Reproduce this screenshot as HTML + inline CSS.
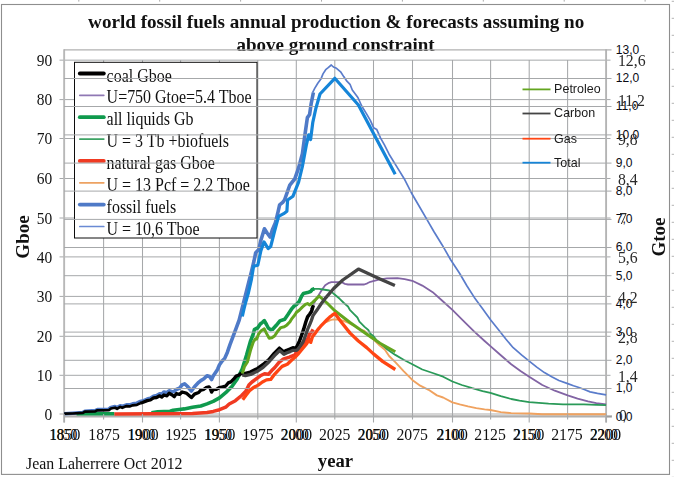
<!DOCTYPE html>
<html><head><meta charset="utf-8"><title>world fossil fuels annual production</title>
<style>html,body{margin:0;padding:0;background:#fff;width:674px;height:477px;overflow:hidden;font-family:"Liberation Serif",serif}</style>
</head><body>
<svg width="674" height="477" viewBox="0 0 674 477" style="position:absolute;left:0;top:0">
<rect x="0" y="0" width="674" height="477" fill="#fff"/>
<text transform="translate(615.8 420.5) scale(0.95 1)" font-family="Liberation Sans, sans-serif" font-size="12.7" fill="#0a0a14">0,0</text>
<text transform="translate(615.8 392.3) scale(0.95 1)" font-family="Liberation Sans, sans-serif" font-size="12.7" fill="#0a0a14">1,0</text>
<text transform="translate(615.8 364.1) scale(0.95 1)" font-family="Liberation Sans, sans-serif" font-size="12.7" fill="#0a0a14">2,0</text>
<text transform="translate(615.8 335.9) scale(0.95 1)" font-family="Liberation Sans, sans-serif" font-size="12.7" fill="#0a0a14">3,0</text>
<text transform="translate(615.8 307.7) scale(0.95 1)" font-family="Liberation Sans, sans-serif" font-size="12.7" fill="#0a0a14">4,0</text>
<text transform="translate(615.8 279.5) scale(0.95 1)" font-family="Liberation Sans, sans-serif" font-size="12.7" fill="#0a0a14">5,0</text>
<text transform="translate(615.8 251.3) scale(0.95 1)" font-family="Liberation Sans, sans-serif" font-size="12.7" fill="#0a0a14">6,0</text>
<text transform="translate(615.8 223.2) scale(0.95 1)" font-family="Liberation Sans, sans-serif" font-size="12.7" fill="#0a0a14">7,0</text>
<text transform="translate(615.8 194.9) scale(0.95 1)" font-family="Liberation Sans, sans-serif" font-size="12.7" fill="#0a0a14">8,0</text>
<text transform="translate(615.8 166.9) scale(0.95 1)" font-family="Liberation Sans, sans-serif" font-size="12.7" fill="#0a0a14">9,0</text>
<text transform="translate(615.8 138.7) scale(0.95 1)" font-family="Liberation Sans, sans-serif" font-size="12.7" fill="#0a0a14">10,0</text>
<text transform="translate(615.8 110.3) scale(0.95 1)" font-family="Liberation Sans, sans-serif" font-size="12.7" fill="#0a0a14">11,0</text>
<text transform="translate(615.8 82.3) scale(0.95 1)" font-family="Liberation Sans, sans-serif" font-size="12.7" fill="#0a0a14">12,0</text>
<text transform="translate(615.8 53.8) scale(0.95 1)" font-family="Liberation Sans, sans-serif" font-size="12.7" fill="#0a0a14">13,0</text>
<text transform="translate(63.6 439.7) scale(0.83 1)" text-anchor="middle" font-family="Liberation Serif, serif" font-size="16.4" fill="#000">1850</text>
<text transform="translate(141.8 439.7) scale(0.83 1)" text-anchor="middle" font-family="Liberation Serif, serif" font-size="16.4" fill="#000">1900</text>
<text transform="translate(218.5 439.7) scale(0.83 1)" text-anchor="middle" font-family="Liberation Serif, serif" font-size="16.4" fill="#000">1950</text>
<text transform="translate(295.2 439.7) scale(0.83 1)" text-anchor="middle" font-family="Liberation Serif, serif" font-size="16.4" fill="#000">2000</text>
<text transform="translate(372.2 439.7) scale(0.83 1)" text-anchor="middle" font-family="Liberation Serif, serif" font-size="16.4" fill="#000">2050</text>
<text transform="translate(451.0 439.7) scale(0.83 1)" text-anchor="middle" font-family="Liberation Serif, serif" font-size="16.4" fill="#000">2100</text>
<text transform="translate(527.5 439.7) scale(0.83 1)" text-anchor="middle" font-family="Liberation Serif, serif" font-size="16.4" fill="#000">2150</text>
<text transform="translate(604.3 439.7) scale(0.83 1)" text-anchor="middle" font-family="Liberation Serif, serif" font-size="16.4" fill="#000">2200</text>
</svg>
<svg width="674" height="477" viewBox="0 0 674 477" style="position:absolute;left:0;top:0;will-change:transform">
<rect x="1.5" y="4.5" width="668" height="469.9" fill="none" stroke="#8e8e8e" stroke-width="1.1"/>
<rect x="78.3" y="0" width="1" height="1.6" fill="#aaa"/>
<rect x="159.2" y="0" width="1" height="1.6" fill="#aaa"/>
<rect x="240.1" y="0" width="1" height="1.6" fill="#aaa"/>
<rect x="321.0" y="0" width="1" height="1.6" fill="#aaa"/>
<rect x="401.9" y="0" width="1" height="1.6" fill="#aaa"/>
<rect x="482.8" y="0" width="1" height="1.6" fill="#aaa"/>
<rect x="563.7" y="0" width="1" height="1.6" fill="#aaa"/>
<rect x="644.6" y="0" width="1" height="1.6" fill="#aaa"/>
<rect x="671.7" y="0.8" width="2.3" height="1" fill="#b4b4b4"/>
<rect x="671.7" y="17.8" width="2.3" height="1" fill="#b4b4b4"/>
<rect x="671.7" y="34.8" width="2.3" height="1" fill="#b4b4b4"/>
<rect x="671.7" y="51.8" width="2.3" height="1" fill="#b4b4b4"/>
<rect x="671.7" y="68.8" width="2.3" height="1" fill="#b4b4b4"/>
<rect x="671.7" y="85.8" width="2.3" height="1" fill="#b4b4b4"/>
<rect x="671.7" y="102.8" width="2.3" height="1" fill="#b4b4b4"/>
<rect x="671.7" y="119.8" width="2.3" height="1" fill="#b4b4b4"/>
<rect x="671.7" y="136.8" width="2.3" height="1" fill="#b4b4b4"/>
<rect x="671.7" y="153.8" width="2.3" height="1" fill="#b4b4b4"/>
<rect x="671.7" y="170.8" width="2.3" height="1" fill="#b4b4b4"/>
<rect x="671.7" y="187.8" width="2.3" height="1" fill="#b4b4b4"/>
<rect x="671.7" y="204.8" width="2.3" height="1" fill="#b4b4b4"/>
<rect x="671.7" y="221.8" width="2.3" height="1" fill="#b4b4b4"/>
<rect x="671.7" y="238.8" width="2.3" height="1" fill="#b4b4b4"/>
<rect x="671.7" y="255.8" width="2.3" height="1" fill="#b4b4b4"/>
<rect x="671.7" y="272.8" width="2.3" height="1" fill="#b4b4b4"/>
<rect x="671.7" y="289.8" width="2.3" height="1" fill="#b4b4b4"/>
<rect x="671.7" y="306.8" width="2.3" height="1" fill="#b4b4b4"/>
<rect x="671.7" y="323.8" width="2.3" height="1" fill="#b4b4b4"/>
<rect x="671.7" y="340.8" width="2.3" height="1" fill="#b4b4b4"/>
<rect x="671.7" y="357.8" width="2.3" height="1" fill="#b4b4b4"/>
<rect x="671.7" y="374.8" width="2.3" height="1" fill="#b4b4b4"/>
<rect x="671.7" y="391.8" width="2.3" height="1" fill="#b4b4b4"/>
<rect x="671.7" y="408.8" width="2.3" height="1" fill="#b4b4b4"/>
<rect x="671.7" y="425.8" width="2.3" height="1" fill="#b4b4b4"/>
<rect x="671.7" y="442.8" width="2.3" height="1" fill="#b4b4b4"/>
<rect x="671.7" y="459.8" width="2.3" height="1" fill="#b4b4b4"/>
<rect x="671.7" y="476.8" width="2.3" height="1" fill="#b4b4b4"/>
<g font-family="Liberation Serif, serif" font-weight="bold" font-size="19" fill="#111" text-anchor="middle">
<text x="336.2" y="28" font-size="19.12">world fossil fuels annual production &amp; forecasts assuming no</text>
<text x="335.6" y="51.2">above ground constraint</text>
</g>
<line x1="59.5" x2="610.5" y1="375.30" y2="375.30" stroke="#a6a8aa" stroke-width="1.0"/>
<line x1="59.5" x2="610.5" y1="336.30" y2="336.30" stroke="#a6a8aa" stroke-width="1.0"/>
<line x1="59.5" x2="610.5" y1="296.40" y2="296.40" stroke="#a6a8aa" stroke-width="1.0"/>
<line x1="59.5" x2="610.5" y1="256.90" y2="256.90" stroke="#a6a8aa" stroke-width="1.0"/>
<line x1="59.5" x2="610.5" y1="218.00" y2="218.00" stroke="#a6a8aa" stroke-width="1.0"/>
<line x1="59.5" x2="610.5" y1="178.50" y2="178.50" stroke="#a6a8aa" stroke-width="1.0"/>
<line x1="59.5" x2="610.5" y1="138.50" y2="138.50" stroke="#a6a8aa" stroke-width="1.0"/>
<line x1="59.5" x2="610.5" y1="99.60" y2="99.60" stroke="#a6a8aa" stroke-width="1.0"/>
<line x1="59.5" x2="610.5" y1="60.15" y2="60.15" stroke="#a6a8aa" stroke-width="1.0"/>
<line x1="103.6" x2="103.6" y1="60" y2="414" stroke="#a6a8aa" stroke-width="1.05"/>
<line x1="142.5" x2="142.5" y1="60" y2="414" stroke="#a6a8aa" stroke-width="1.05"/>
<line x1="180.6" x2="180.6" y1="60" y2="414" stroke="#a6a8aa" stroke-width="1.05"/>
<line x1="219.4" x2="219.4" y1="60" y2="414" stroke="#a6a8aa" stroke-width="1.05"/>
<line x1="257.8" x2="257.8" y1="60" y2="414" stroke="#a6a8aa" stroke-width="1.05"/>
<line x1="296.3" x2="296.3" y1="60" y2="414" stroke="#a6a8aa" stroke-width="1.05"/>
<line x1="334.8" x2="334.8" y1="60" y2="414" stroke="#a6a8aa" stroke-width="1.05"/>
<line x1="373.5" x2="373.5" y1="60" y2="414" stroke="#a6a8aa" stroke-width="1.05"/>
<line x1="412.5" x2="412.5" y1="60" y2="414" stroke="#a6a8aa" stroke-width="1.05"/>
<line x1="452.5" x2="452.5" y1="60" y2="414" stroke="#a6a8aa" stroke-width="1.05"/>
<line x1="490.6" x2="490.6" y1="60" y2="414" stroke="#a6a8aa" stroke-width="1.05"/>
<line x1="529.2" x2="529.2" y1="60" y2="414" stroke="#a6a8aa" stroke-width="1.05"/>
<line x1="567.6" x2="567.6" y1="60" y2="414" stroke="#a6a8aa" stroke-width="1.05"/>
<line x1="64.15" x2="64.15" y1="49.3" y2="422.5" stroke="#b8b8b8" stroke-width="1.9"/>
<line x1="59.5" x2="606" y1="414" y2="414" stroke="#ababab" stroke-width="1.1"/>
<line x1="64" x2="612" y1="416.4" y2="416.4" stroke="#b0b0b0" stroke-width="2.4"/>
<line x1="606.1" x2="606.1" y1="49.3" y2="422.5" stroke="#b4b4b4" stroke-width="1.9"/>
<path d="M310.6 309.2 L312.7 306.1 L315.8 299.9 L318.9 294.7 L322.1 289.5 L325.2 285.3 L328.3 283.2 L331.4 282.2 L341.8 282.2 L344.9 283.9 L348.0 284.5 L362.6 284.5 L364.2 284.5 L367.3 283.3 L370.4 281.8 L378.7 279.7 L387.0 278.3 L397.4 278.1 L404.7 279.1 L412.3 280.8 L422.3 285.6 L432.7 292.2 L443.1 301.5 L452.4 309.9 L463.9 321.3 L474.3 331.7 L484.6 341.0 L490.4 346.2 L500.8 355.3 L511.2 364.3 L520.5 371.1 L529.2 376.7 L542.3 385.0 L554.8 390.7 L567.7 395.4 L577.6 398.6 L588.0 401.3 L596.3 403.1 L606.1 404.4" fill="none" stroke="#8264a4" stroke-width="1.8" stroke-linejoin="round" stroke-linecap="butt" />
<path d="M313.7 288.8 L318.9 288.8 L323.1 289.5 L329.3 290.5 L332.4 292.6 L334.9 294.7 L339.7 298.8 L343.9 303.0 L348.0 306.5 L350.1 310.2 L354.3 314.4 L357.4 317.5 L359.4 321.7 L364.6 326.9 L368.3 330.0 L370.4 333.7 L373.5 336.2 L376.6 340.4 L384.9 347.7 L395.3 354.9 L403.6 359.7 L412.3 364.3 L422.3 369.5 L432.7 373.0 L443.1 376.7 L452.4 381.5 L461.8 385.0 L472.2 388.2 L482.6 391.1 L490.4 392.9 L500.8 396.1 L511.2 399.0 L519.5 400.6 L529.2 402.1 L548.6 403.7 L563.1 404.4 L583.9 404.4 L596.3 404.8 L606.1 405.2" fill="none" stroke="#2a9a58" stroke-width="1.8" stroke-linejoin="round" stroke-linecap="butt" />
<path d="M323.1 323.1 L327.2 321.7 L330.4 320.2 L333.5 319.4 L338.7 319.6 L343.9 321.0 L348.0 322.7 L354.3 325.8 L360.5 330.0 L364.2 330.6 L370.4 336.9 L373.5 339.3 L379.7 345.6 L384.9 349.7 L389.1 356.0 L395.3 362.2 L403.6 371.1 L412.3 379.9 L420.2 385.7 L428.6 389.8 L436.9 395.4 L443.1 397.5 L452.4 402.3 L459.7 404.4 L468.0 406.4 L476.3 408.1 L484.6 409.4 L490.4 410.0 L500.8 412.1 L511.2 413.1 L529.2 413.5 L542.3 414.3 L606.1 414.3" fill="none" stroke="#f0a25f" stroke-width="1.9" stroke-linejoin="round" stroke-linecap="butt" />
<path d="M312.6 92.6 L314.7 88.4 L317.8 83.2 L320.9 79.1 L323.0 73.9 L325.7 69.7 L328.2 67.7 L331.3 65.0 L333.4 67.0 L336.5 68.3 L340.6 71.8 L343.7 76.6 L346.9 81.2 L350.0 84.3 L352.3 90.0 L357.9 97.5 L361.7 106.0 L366.4 113.6 L370.2 120.2 L373.6 127.7 L376.8 129.6 L380.6 138.1 L384.3 144.7 L389.1 154.2 L396.6 166.4 L404.2 178.7 L412.2 194.3 L419.5 206.7 L426.7 219.2 L434.0 231.7 L442.3 245.2 L450.8 260.0 L459.7 273.5 L467.0 286.0 L474.3 297.4 L482.6 308.8 L490.9 320.2 L498.7 330.0 L506.0 339.3 L513.2 347.7 L521.5 354.9 L529.2 361.2 L537.1 367.4 L544.4 372.6 L551.7 376.7 L558.9 380.5 L567.7 383.6 L573.5 385.7 L579.7 387.7 L584.9 389.8 L590.1 391.9 L597.4 393.4 L606.1 394.8" fill="none" stroke="#5a7ccb" stroke-width="1.7" stroke-linejoin="round" stroke-linecap="butt" />
<path d="M64.2 413.8 L72.5 413.3 L82.9 412.5 L84.9 411.2 L95.3 410.6 L97.4 409.6 L108.8 409.2 L110.9 407.5 L115.0 406.6 L117.1 407.6 L120.2 405.7 L122.3 406.5 L126.5 404.8 L129.6 404.9 L132.7 403.9 L136.9 403.2 L140.0 401.5 L142.5 401.1 L147.2 399.1 L150.4 398.2 L153.5 396.2 L156.6 395.5 L159.7 393.7 L161.8 394.5 L163.9 392.0 L167.0 392.8 L169.1 390.8 L172.2 391.8 L174.3 391.4 L176.3 389.5 L179.4 388.3 L182.1 384.9 L184.6 383.8 L187.3 386.3 L191.4 391.0 L194.5 386.7 L198.7 382.3 L200.8 380.6 L203.9 378.8 L207.0 375.7 L209.5 376.5 L211.6 379.6 L213.2 376.1 L216.4 371.3 L217.8 368.8 L219.5 364.7 L222.6 360.5 L224.7 358.4 L227.4 352.2 L229.9 344.9 L233.0 336.6 L236.1 328.3 L239.2 320.0 L249.5 279.1 L251.5 271.4 L254.0 261.0 L255.7 252.7 L258.8 249.6 L260.9 240.2 L264.4 228.8 L267.1 233.0 L270.2 237.1 L272.3 229.9 L275.4 222.6 L277.5 214.3 L279.6 204.9 L282.7 202.4 L284.5 200.0 L289.8 185.2 L294.8 178.9 L298.6 167.9 L302.4 153.8 L304.9 134.9 L307.4 117.6 L309.6 114.5 L311.2 103.5 L313.4 92.5" fill="none" stroke="#4f7ac7" stroke-width="3.6" stroke-linejoin="round" stroke-linecap="butt" />
<path d="M76.6 413.7 L114.4 413.7" fill="none" stroke="#0f9a4d" stroke-width="3.4" stroke-linejoin="round" stroke-linecap="butt" />
<path d="M151.4 412.7 L157.6 411.9 L163.9 411.5 L170.1 411.3 L173.2 410.2 L181.1 409.2 L184.2 408.9 L192.5 407.2 L200.8 406.0 L207.0 403.9 L213.2 401.4 L219.5 397.9 L225.7 392.7 L231.9 386.5 L237.1 379.2 L242.3 368.8 L246.5 355.3 L250.6 340.8 L253.1 334.5 L254.5 329.3 L257.6 328.0 L260.3 324.0 L262.5 322.3 L264.3 320.6 L266.5 324.5 L268.3 328.0 L270.5 329.6 L272.7 329.3 L276.3 325.3 L279.9 320.9 L284.7 319.2 L287.8 314.8 L291.9 308.6 L294.4 305.7 L296.5 304.4 L299.2 301.5 L301.7 296.1 L303.4 293.6 L307.5 292.6 L310.6 291.5 L312.3 289.5 L314.4 288.8" fill="none" stroke="#0f9a4d" stroke-width="3.6" stroke-linejoin="round" stroke-linecap="butt" />
<path d="M64.2 413.6 L72.5 413.5 L82.9 412.9 L84.9 411.7 L95.3 411.3 L97.4 410.3 L108.8 410.2 L110.9 408.5 L115.0 407.7 L117.1 408.8 L120.2 406.9 L122.3 407.8 L126.5 406.1 L129.6 406.4 L132.7 405.3 L136.9 404.9 L140.0 403.3" fill="none" stroke="#000" stroke-width="2.7" stroke-linejoin="round" stroke-linecap="butt" />
<path d="M140.0 403.3 L142.5 402.5 L147.2 400.6 L150.4 400.0 L153.5 397.9 L156.6 397.5 L159.7 395.8 L161.8 397.1 L163.9 395.0 L167.0 395.8 L169.1 393.3 L172.2 395.0 L174.3 396.7 L176.3 393.7 L179.4 394.4 L182.1 392.0 L186.2 393.1 L191.4 397.6 L194.5 394.1 L198.7 392.5 L200.8 390.1 L203.9 389.3 L206.0 387.7 L209.1 386.9 L210.3 388.6 L211.6 392.1 L213.2 389.6 L216.4 389.4 L219.5 387.5 L222.6 386.9 L225.7 386.1 L228.2 382.9 L230.9 381.9 L233.6 379.2 L236.1 376.1 L239.2 375.0 L241.3 373.0" fill="none" stroke="#000" stroke-width="3.3" stroke-linejoin="round" stroke-linecap="butt" />
<path d="M241.3 373.0 L244.4 373.6 L250.3 372.1 L257.6 368.5 L262.8 364.8 L269.0 359.6 L274.2 353.4 L279.4 348.2 L283.6 351.9 L286.7 350.3 L289.8 349.2 L292.9 347.8 L296.0 348.2 L299.1 342.0 L301.5 335.5 L303.6 329.4 L305.8 322.0 L307.6 316.9 L309.8 314.0 L311.6 311.2 L312.5 308.0 L313.4 305.3" fill="none" stroke="#000" stroke-width="3.5" stroke-linejoin="round" stroke-linecap="butt" />
<path d="M114.4 414.0 L192.5 413.5 L207.0 412.4 L213.2 411.4 L219.5 409.7 L225.7 407.2 L229.2 404.0 L235.4 400.7 L241.6 395.5 L245.8 391.3 L248.9 385.1 L252.0 382.0 L256.2 378.9 L260.3 375.8 L264.5 373.7 L268.6 374.2 L271.7 370.6 L274.8 367.5 L279.0 362.3 L283.2 359.2 L289.4 357.1 L295.0 354.8 L296.3 352.2 L300.5 347.0 L304.6 341.8 L307.5 339.3 L309.6 334.1 L311.7 332.1 L313.1 329.4" fill="none" stroke="#f03a22" stroke-width="3.5" stroke-linejoin="round" stroke-linecap="butt" />
<rect x="74.5" y="62.3" width="182.5" height="175.7" fill="#fff" stroke="#0c0c0c" stroke-width="1"/>
<line x1="79.8" x2="103.8" y1="73.5" y2="73.5" stroke="#000" stroke-width="3.8" stroke-linecap="round"/>
<text transform="translate(106.6 81.6) scale(0.892 1)" font-family="Liberation Serif, serif" font-size="17.9" fill="#111">coal Gboe</text>
<line x1="79.8" x2="103.8" y1="95.3" y2="95.3" stroke="#8f78b4" stroke-width="1.7" stroke-linecap="round"/>
<text transform="translate(106.6 103.4) scale(0.892 1)" font-family="Liberation Serif, serif" font-size="17.9" fill="#111">U=750 Gtoe=5.4 Tboe</text>
<line x1="79.8" x2="103.8" y1="117.2" y2="117.2" stroke="#0f9a4d" stroke-width="3.8" stroke-linecap="round"/>
<text transform="translate(106.6 125.3) scale(0.892 1)" font-family="Liberation Serif, serif" font-size="17.9" fill="#111">all liquids Gb</text>
<line x1="79.8" x2="103.8" y1="139.1" y2="139.1" stroke="#3da364" stroke-width="1.7" stroke-linecap="round"/>
<text transform="translate(106.6 147.2) scale(0.892 1)" font-family="Liberation Serif, serif" font-size="17.9" fill="#111">U = 3 Tb +biofuels</text>
<line x1="79.8" x2="103.8" y1="160.9" y2="160.9" stroke="#f03a22" stroke-width="3.8" stroke-linecap="round"/>
<text transform="translate(106.6 169.0) scale(0.892 1)" font-family="Liberation Serif, serif" font-size="17.9" fill="#111">natural gas Gboe</text>
<line x1="79.8" x2="103.8" y1="182.8" y2="182.8" stroke="#eda262" stroke-width="1.7" stroke-linecap="round"/>
<text transform="translate(106.6 190.8) scale(0.892 1)" font-family="Liberation Serif, serif" font-size="17.9" fill="#111">U = 13 Pcf = 2.2 Tboe</text>
<line x1="79.8" x2="103.8" y1="204.6" y2="204.6" stroke="#4f7ac7" stroke-width="3.8" stroke-linecap="round"/>
<text transform="translate(106.6 212.7) scale(0.892 1)" font-family="Liberation Serif, serif" font-size="17.9" fill="#111">fossil fuels</text>
<line x1="79.8" x2="103.8" y1="226.5" y2="226.5" stroke="#6a8ad4" stroke-width="1.7" stroke-linecap="round"/>
<text transform="translate(106.6 234.6) scale(0.892 1)" font-family="Liberation Serif, serif" font-size="17.9" fill="#111">U = 10,6 Tboe</text>
<line x1="64" x2="611.5" y1="388.50" y2="388.50" stroke="#a6a8aa" stroke-width="1.0"/>
<line x1="64" x2="611.5" y1="360.30" y2="360.30" stroke="#a6a8aa" stroke-width="1.0"/>
<line x1="64" x2="611.5" y1="332.10" y2="332.10" stroke="#a6a8aa" stroke-width="1.0"/>
<line x1="64" x2="611.5" y1="303.90" y2="303.90" stroke="#a6a8aa" stroke-width="1.0"/>
<line x1="64" x2="611.5" y1="275.70" y2="275.70" stroke="#a6a8aa" stroke-width="1.0"/>
<line x1="64" x2="611.5" y1="247.50" y2="247.50" stroke="#a6a8aa" stroke-width="1.0"/>
<line x1="64" x2="611.5" y1="219.40" y2="219.40" stroke="#a6a8aa" stroke-width="1.0"/>
<line x1="64" x2="611.5" y1="191.10" y2="191.10" stroke="#a6a8aa" stroke-width="1.0"/>
<line x1="64" x2="611.5" y1="163.10" y2="163.10" stroke="#a6a8aa" stroke-width="1.0"/>
<line x1="64" x2="611.5" y1="134.90" y2="134.90" stroke="#a6a8aa" stroke-width="1.0"/>
<line x1="64" x2="611.5" y1="106.50" y2="106.50" stroke="#a6a8aa" stroke-width="1.0"/>
<line x1="64" x2="611.5" y1="78.50" y2="78.50" stroke="#a6a8aa" stroke-width="1.0"/>
<line x1="64" x2="611.5" y1="49.95" y2="49.95" stroke="#b0b0b0" stroke-width="1.3"/>
<line x1="606" x2="611.5" y1="416.7" y2="416.7" stroke="#999" stroke-width="1.1"/>
<line x1="64.2" x2="64.2" y1="414" y2="422.5" stroke="#a6a8aa" stroke-width="1.1"/>
<line x1="103.6" x2="103.6" y1="414" y2="419.5" stroke="#a6a8aa" stroke-width="1.1"/>
<line x1="142.5" x2="142.5" y1="414" y2="422.5" stroke="#a6a8aa" stroke-width="1.1"/>
<line x1="180.6" x2="180.6" y1="414" y2="419.5" stroke="#a6a8aa" stroke-width="1.1"/>
<line x1="219.4" x2="219.4" y1="414" y2="422.5" stroke="#a6a8aa" stroke-width="1.1"/>
<line x1="257.8" x2="257.8" y1="414" y2="419.5" stroke="#a6a8aa" stroke-width="1.1"/>
<line x1="296.3" x2="296.3" y1="414" y2="422.5" stroke="#a6a8aa" stroke-width="1.1"/>
<line x1="334.8" x2="334.8" y1="414" y2="419.5" stroke="#a6a8aa" stroke-width="1.1"/>
<line x1="373.5" x2="373.5" y1="414" y2="422.5" stroke="#a6a8aa" stroke-width="1.1"/>
<line x1="412.5" x2="412.5" y1="414" y2="419.5" stroke="#a6a8aa" stroke-width="1.1"/>
<line x1="452.5" x2="452.5" y1="414" y2="422.5" stroke="#a6a8aa" stroke-width="1.1"/>
<line x1="490.6" x2="490.6" y1="414" y2="419.5" stroke="#a6a8aa" stroke-width="1.1"/>
<line x1="529.2" x2="529.2" y1="414" y2="422.5" stroke="#a6a8aa" stroke-width="1.1"/>
<line x1="567.6" x2="567.6" y1="414" y2="419.5" stroke="#a6a8aa" stroke-width="1.1"/>
<line x1="606.2" x2="606.2" y1="414" y2="422.5" stroke="#a6a8aa" stroke-width="1.1"/>
<path d="M242.3 373.6 L244.4 366.7 L247.4 362.0 L250.5 350.3 L253.2 342.3 L255.4 338.7 L256.7 339.1 L258.5 334.2 L261.2 330.7 L264.3 328.9 L266.5 333.4 L269.2 338.3 L271.9 337.8 L274.5 336.0 L278.1 330.7 L280.8 327.6 L284.3 326.7 L287.0 324.9 L290.0 321.8 L291.9 318.6 L295.0 314.8 L296.5 312.3 L299.2 310.2 L302.3 307.1 L305.4 304.4 L307.5 303.6 L309.6 305.0 L312.7 302.3 L315.8 299.4 L319.1 296.0 L327.0 303.0 L334.8 310.7 L350.0 322.5 L365.0 333.0 L380.0 343.3 L395.3 351.8" fill="none" stroke="#63a51f" stroke-width="3.0" stroke-linejoin="round" stroke-linecap="butt" />
<path d="M242.3 375.0 L245.4 375.7 L250.6 374.4 L257.9 370.9 L263.1 367.4 L269.3 361.5 L274.5 355.7 L279.7 350.5 L283.9 354.3 L287.0 352.8 L290.1 351.6 L293.2 350.3 L296.3 350.3 L297.5 350.0 L300.0 346.5 L303.0 342.0 L305.3 336.0 L307.6 329.4 L310.0 323.8 L311.3 320.6 L313.0 315.6 L316.8 310.3 L321.0 304.0 L325.7 297.8 L333.7 288.5 L342.8 280.0 L358.4 269.1 L380.0 279.1 L394.9 285.6" fill="none" stroke="#444" stroke-width="3.3" stroke-linejoin="round" stroke-linecap="butt" />
<path d="M242.7 399.7 L245.8 395.5 L249.9 390.3 L254.1 387.2 L258.2 385.1 L262.4 382.0 L266.5 379.9 L270.7 379.4 L273.8 375.2 L278.0 370.6 L282.1 366.4 L287.3 364.3 L291.5 360.2 L295.0 357.3 L297.8 354.4 L302.3 349.0 L306.7 343.7 L309.4 339.2 L310.7 342.4 L312.5 336.6 L314.8 333.7 L317.8 329.6 L320.7 326.2 L323.7 323.1 L326.7 320.0 L329.7 317.1 L332.2 315.2 L334.9 313.4 L341.8 322.7 L350.1 333.1 L358.4 341.0 L366.7 347.6 L373.5 353.9 L382.9 361.6 L395.3 369.5" fill="none" stroke="#ff4513" stroke-width="3.3" stroke-linejoin="round" stroke-linecap="butt" />
<path d="M242.3 316.5 L244.0 309.0 L245.4 303.4 L248.5 292.5 L251.5 279.1 L253.6 266.2 L257.8 265.2 L260.9 250.6 L264.0 241.9 L268.2 248.6 L270.7 246.5 L274.4 231.9 L278.6 216.4 L283.7 213.7 L286.9 211.2 L287.6 200.0 L293.0 196.2 L298.6 182.1 L302.4 166.4 L306.5 144.3 L308.7 134.9 L310.6 139.6 L312.8 122.3 L315.9 108.2 L320.0 94.0 L334.8 78.3 L358.4 105.0 L395.2 174.2" fill="none" stroke="#1585d8" stroke-width="3.2" stroke-linejoin="round" stroke-linecap="butt" />
<line x1="522.5" x2="550.5" y1="89.4" y2="89.4" stroke="#63a51f" stroke-width="1.8"/>
<text transform="translate(554.1 93.3) scale(0.985 1)" font-family="Liberation Sans, sans-serif" font-size="12.7" fill="#1a1a1a">Petroleo</text>
<line x1="522.5" x2="550.5" y1="113.5" y2="113.5" stroke="#444" stroke-width="1.8"/>
<text transform="translate(554.1 117.4) scale(0.985 1)" font-family="Liberation Sans, sans-serif" font-size="12.7" fill="#1a1a1a">Carbon</text>
<line x1="522.5" x2="550.5" y1="138.7" y2="138.7" stroke="#ff4513" stroke-width="1.8"/>
<text transform="translate(554.1 142.6) scale(0.985 1)" font-family="Liberation Sans, sans-serif" font-size="12.7" fill="#1a1a1a">Gas</text>
<line x1="522.5" x2="550.5" y1="162.7" y2="162.7" stroke="#1585d8" stroke-width="1.8"/>
<text transform="translate(554.1 166.6) scale(0.985 1)" font-family="Liberation Sans, sans-serif" font-size="12.7" fill="#1a1a1a">Total</text>
<text transform="translate(52.3 420.0) scale(0.95 1)" text-anchor="end" font-family="Liberation Serif, serif" font-size="16.3" fill="#111">0</text>
<text transform="translate(52.3 381.0) scale(0.95 1)" text-anchor="end" font-family="Liberation Serif, serif" font-size="16.3" fill="#111">10</text>
<text transform="translate(52.3 342.0) scale(0.95 1)" text-anchor="end" font-family="Liberation Serif, serif" font-size="16.3" fill="#111">20</text>
<text transform="translate(52.3 302.1) scale(0.95 1)" text-anchor="end" font-family="Liberation Serif, serif" font-size="16.3" fill="#111">30</text>
<text transform="translate(52.3 262.6) scale(0.95 1)" text-anchor="end" font-family="Liberation Serif, serif" font-size="16.3" fill="#111">40</text>
<text transform="translate(52.3 223.7) scale(0.95 1)" text-anchor="end" font-family="Liberation Serif, serif" font-size="16.3" fill="#111">50</text>
<text transform="translate(52.3 184.2) scale(0.95 1)" text-anchor="end" font-family="Liberation Serif, serif" font-size="16.3" fill="#111">60</text>
<text transform="translate(52.3 144.2) scale(0.95 1)" text-anchor="end" font-family="Liberation Serif, serif" font-size="16.3" fill="#111">70</text>
<text transform="translate(52.3 105.3) scale(0.95 1)" text-anchor="end" font-family="Liberation Serif, serif" font-size="16.3" fill="#111">80</text>
<text transform="translate(52.3 65.8) scale(0.95 1)" text-anchor="end" font-family="Liberation Serif, serif" font-size="16.3" fill="#111">90</text>
<text transform="translate(618.9 420.5) scale(0.97 1)" font-family="Liberation Serif, serif" font-size="16.3" fill="#2a2a2a">0</text>
<text transform="translate(617.9 381.5) scale(0.97 1)" font-family="Liberation Serif, serif" font-size="16.3" fill="#2a2a2a">1,4</text>
<text transform="translate(617.9 342.5) scale(0.97 1)" font-family="Liberation Serif, serif" font-size="16.3" fill="#2a2a2a">2,8</text>
<text transform="translate(617.9 302.6) scale(0.97 1)" font-family="Liberation Serif, serif" font-size="16.3" fill="#2a2a2a">4,2</text>
<text transform="translate(617.9 263.1) scale(0.97 1)" font-family="Liberation Serif, serif" font-size="16.3" fill="#2a2a2a">5,6</text>
<text transform="translate(618.9 224.2) scale(0.97 1)" font-family="Liberation Serif, serif" font-size="16.3" fill="#2a2a2a">7</text>
<text transform="translate(617.9 184.7) scale(0.97 1)" font-family="Liberation Serif, serif" font-size="16.3" fill="#2a2a2a">8,4</text>
<text transform="translate(617.9 144.7) scale(0.97 1)" font-family="Liberation Serif, serif" font-size="16.3" fill="#2a2a2a">9,8</text>
<text transform="translate(617.9 105.8) scale(0.97 1)" font-family="Liberation Serif, serif" font-size="16.3" fill="#2a2a2a">11,2</text>
<text transform="translate(617.9 66.3) scale(0.97 1)" font-family="Liberation Serif, serif" font-size="16.3" fill="#2a2a2a">12,6</text>
<text transform="translate(64.7 439.8) scale(0.95 1)" text-anchor="middle" font-family="Liberation Serif, serif" font-size="16.6" fill="#111">1850</text>
<text transform="translate(104.1 439.8) scale(0.95 1)" text-anchor="middle" font-family="Liberation Serif, serif" font-size="16.6" fill="#111">1875</text>
<text transform="translate(142.9 439.8) scale(0.95 1)" text-anchor="middle" font-family="Liberation Serif, serif" font-size="16.6" fill="#111">1900</text>
<text transform="translate(180.9 439.8) scale(0.95 1)" text-anchor="middle" font-family="Liberation Serif, serif" font-size="16.6" fill="#111">1925</text>
<text transform="translate(219.6 439.8) scale(0.95 1)" text-anchor="middle" font-family="Liberation Serif, serif" font-size="16.6" fill="#111">1950</text>
<text transform="translate(257.9 439.8) scale(0.95 1)" text-anchor="middle" font-family="Liberation Serif, serif" font-size="16.6" fill="#111">1975</text>
<text transform="translate(296.3 439.8) scale(0.95 1)" text-anchor="middle" font-family="Liberation Serif, serif" font-size="16.6" fill="#111">2000</text>
<text transform="translate(334.7 439.8) scale(0.95 1)" text-anchor="middle" font-family="Liberation Serif, serif" font-size="16.6" fill="#111">2025</text>
<text transform="translate(373.3 439.8) scale(0.95 1)" text-anchor="middle" font-family="Liberation Serif, serif" font-size="16.6" fill="#111">2050</text>
<text transform="translate(412.2 439.8) scale(0.95 1)" text-anchor="middle" font-family="Liberation Serif, serif" font-size="16.6" fill="#111">2075</text>
<text transform="translate(452.1 439.8) scale(0.95 1)" text-anchor="middle" font-family="Liberation Serif, serif" font-size="16.6" fill="#111">2100</text>
<text transform="translate(490.1 439.8) scale(0.95 1)" text-anchor="middle" font-family="Liberation Serif, serif" font-size="16.6" fill="#111">2125</text>
<text transform="translate(528.6 439.8) scale(0.95 1)" text-anchor="middle" font-family="Liberation Serif, serif" font-size="16.6" fill="#111">2150</text>
<text transform="translate(566.9 439.8) scale(0.95 1)" text-anchor="middle" font-family="Liberation Serif, serif" font-size="16.6" fill="#111">2175</text>
<text transform="translate(605.4 439.8) scale(0.95 1)" text-anchor="middle" font-family="Liberation Serif, serif" font-size="16.6" fill="#111">2200</text>
<text transform="translate(28.5 237) rotate(-90)" text-anchor="middle" font-family="Liberation Serif, serif" font-weight="bold" font-size="19" fill="#111">Gboe</text>
<text transform="translate(665 237) rotate(-90)" text-anchor="middle" font-family="Liberation Serif, serif" font-weight="bold" font-size="19" fill="#111">Gtoe</text>
<text x="335.5" y="466.6" text-anchor="middle" font-family="Liberation Serif, serif" font-weight="bold" font-size="18.7" fill="#111">year</text>
<text transform="translate(26 469.2) scale(0.908 1)" font-family="Liberation Serif, serif" font-size="17.5" fill="#111">Jean Laherrere Oct 2012</text>
</svg>
</body></html>
